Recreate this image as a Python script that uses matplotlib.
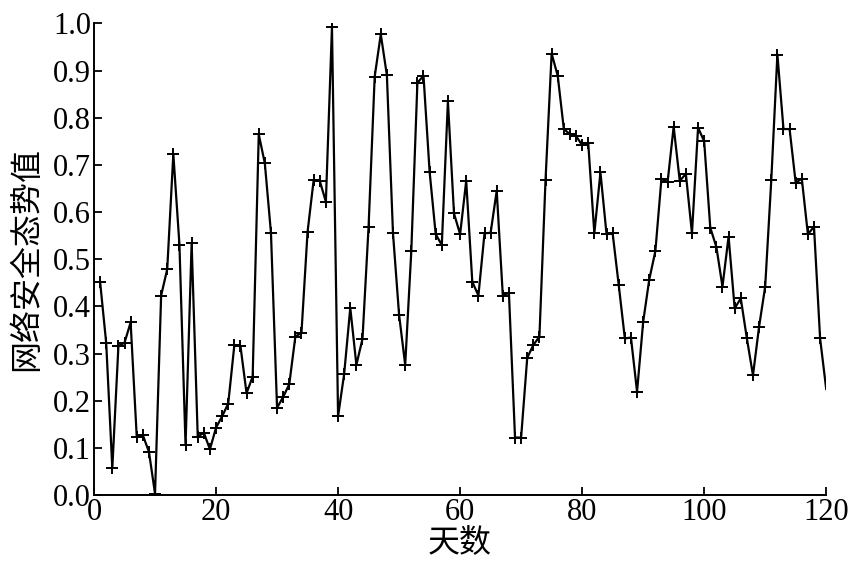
import numpy as np
import matplotlib
matplotlib.use("Agg")
import matplotlib.pyplot as plt

# situation value per day (days 1..120)
days = np.arange(1, 121)
values = [
    0.452, 0.322, 0.057, 0.316, 0.323, 0.366, 0.124, 0.127, 0.092, 0.003,
    0.423, 0.479, 0.723, 0.531, 0.106, 0.534, 0.124, 0.132, 0.097, 0.143,
    0.167, 0.194, 0.318, 0.316, 0.216, 0.251, 0.765, 0.703, 0.556, 0.185,
    0.208, 0.235, 0.336, 0.344, 0.558, 0.668, 0.666, 0.622, 0.992, 0.167,
    0.257, 0.397, 0.276, 0.331, 0.569, 0.887, 0.977, 0.890, 0.555, 0.382,
    0.276, 0.517, 0.874, 0.889, 0.686, 0.553, 0.530, 0.835, 0.597, 0.553,
    0.666, 0.452, 0.423, 0.555, 0.556, 0.645, 0.423, 0.429, 0.122, 0.122,
    0.291, 0.318, 0.336, 0.668, 0.936, 0.889, 0.776, 0.765, 0.761, 0.742,
    0.746, 0.555, 0.684, 0.553, 0.555, 0.445, 0.332, 0.334, 0.219, 0.367,
    0.457, 0.517, 0.671, 0.663, 0.781, 0.666, 0.681, 0.555, 0.779, 0.750,
    0.567, 0.526, 0.442, 0.548, 0.396, 0.417, 0.332, 0.254, 0.357, 0.442,
    0.668, 0.934, 0.776, 0.776, 0.662, 0.671, 0.553, 0.569, 0.332, 0.225,
]
xticks = [0, 20, 40, 60, 80, 100, 120]
yticks = np.round(np.arange(0, 1.01, 0.1), 1)

cjk = ['Noto Sans CJK SC', 'DejaVu Sans']

fig = plt.figure(figsize=(8.5, 5.71), dpi=100)
ax = fig.add_axes([0.1106, 0.133, 0.8614, 0.826])

ax.plot(days, values, color='black', lw=1.6, marker='+', ms=9, mew=1.4,
        markevery=slice(0, len(values) - 1))

ax.set_xlim(0, 120)
ax.set_ylim(0, 1.0)
ax.set_xticks(xticks)
ax.set_yticks(yticks)
ax.set_yticklabels([f"{v:.1f}" for v in yticks])
for lab in ax.get_xticklabels() + ax.get_yticklabels():
    lab.set_fontfamily('Liberation Serif')
    lab.set_fontsize(22)
ax.tick_params(direction='in', length=6, width=1.3, pad=2)

ax.spines['top'].set_visible(False)
ax.spines['right'].set_visible(False)
ax.spines['left'].set_linewidth(1.4)
ax.spines['bottom'].set_linewidth(1.4)

ax.set_xlabel('天数', family=cjk, fontsize=23, labelpad=0)
ax.set_ylabel('网络安全态势值', family=cjk, fontsize=23, labelpad=8)

fig.savefig('out.png', dpi=100)
